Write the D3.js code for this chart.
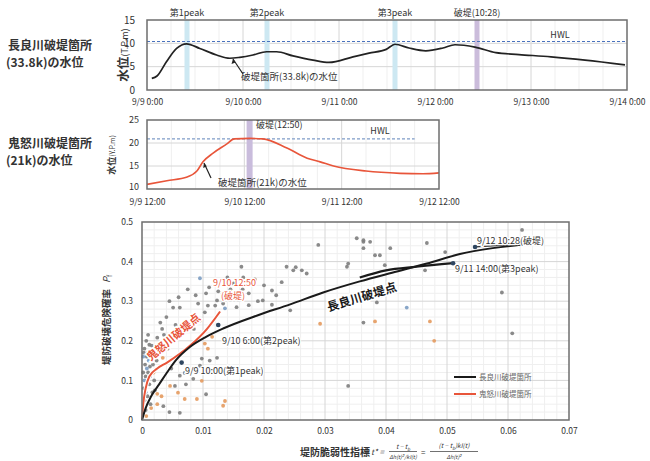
<!DOCTYPE html>
<html><head><meta charset="utf-8">
<script src="https://cdn.jsdelivr.net/npm/d3@7"></script>
<style>
body{margin:0;background:#fff}
svg{display:block}
text{font-family:"Noto Sans CJK JP","Noto Sans",sans-serif;fill:#333}
</style>
</head><body>
<svg id="c" width="650" height="461"></svg>
<script>
// ---------------- DATA ----------------
// Chart 1: 長良川 (hours from 9/9 0:00)
const nagaraHours = [1.2,2.5,4.9,7.4,9.9,13.2,17.4,20.7,23.2,26.5,29.9,32.4,36.5,41.5,45.5,51.5,55.5,59.8,62,65.5,69.7,74,77,82,87.2,93,101,109.5,119.5];
const nagaraLevel = [2.5,3.0,6.1,8.9,9.9,8.9,7.5,6.8,7.0,7.5,8.2,8.2,7.3,6.4,5.9,7.1,7.9,8.7,9.8,9.0,8.4,9.0,9.7,9.2,8.0,7.6,7.1,6.4,5.4];
const nagaraHWL = 10.4;
const nagaraTickHours = [0,24,48,72,96,120];
const nagaraTickLabels = ["9/9 0:00","9/10 0:00","9/11 0:00","9/12 0:00","9/13 0:00","9/14 0:00"];
const nagaraYTicks = [0,5,10,15];
const nagaraEventHours = [10,30,62,82.5];
const nagaraEventLabels = ["第1peak","第2peak","第3peak","破堤(10:28)"];
const nagaraEventKinds = ["peak","peak","peak","break"];

// Chart 2: 鬼怒川 (hours from 9/9 12:00)
const kinuHours = [0,4.9,9.9,12.3,13.8,16.3,19.7,21.5,25.4,28.5,34.5,39.5,42.7,46,54,62.4,68,72];
const kinuLevel = [11.0,11.8,12.6,13.9,15.9,17.8,19.8,20.9,21.0,20.9,18.9,16.7,15.9,15.0,13.9,13.4,13.3,13.5];
const kinuHWL = 20.9;
const kinuHWLEndHour = 66;
const kinuTickHours = [0,24,48,72];
const kinuTickLabels = ["9/9 12:00","9/10 12:00","9/11 12:00","9/12 12:00"];
const kinuYTicks = [10,15,20,25];
const kinuBreakHour = 25.3;

// Chart 3: t* vs Pf
const scatterXTicks = [0,0.01,0.02,0.03,0.04,0.05,0.06,0.07];
const scatterYTicks = [0,0.1,0.2,0.3,0.4,0.5];
const grayPts = [
 [0.0163,0.387],[0.0166,0.36],[0.0229,0.348],[0.0237,0.387],[0.0248,0.378],[0.0252,0.386],[0.0262,0.378],[0.027,0.37],
 [0.0213,0.327],[0.022,0.315],[0.0243,0.277],[0.0198,0.302],[0.0213,0.291],[0.019,0.30],[0.0336,0.387],[0.0338,0.395],
 [0.0352,0.459],[0.0363,0.45],[0.0363,0.246],[0.0338,0.086],[0.0051,0.284],[0.0062,0.284],[0.003,0.246],[0.0033,0.23],
 [0.0025,0.208],[0.0016,0.188],[0.0046,0.195],[0.0057,0.205],[0.0084,0.264],[0.0095,0.251],[0.0103,0.272],[0.0108,0.289],
 [0.012,0.289],[0.0123,0.302],[0.0133,0.294],[0.0092,0.294],[0.0062,0.112],[0.0054,0.086],[0.007,0.119],[0.0084,0.104],
 [0.0095,0.137],[0.0111,0.15],[0.0123,0.157],[0.0098,0.155],[0.0062,0.018],[0.0363,0.454],[0.0374,0.45],[0.0363,0.434],
 [0.0382,0.416],[0.0407,0.434],[0.039,0.416],[0.0398,0.391],[0.0467,0.447],[0.0497,0.424],[0.0464,0.378],[0.0393,0.315],
 [0.0385,0.297],[0.059,0.322],[0.0607,0.219],[0.0145,0.33],[0.0155,0.31],[0.0175,0.32],[0.0105,0.32],[0.014,0.36],
 [0.0002,0.02],[0.0004,0.05],[0.0003,0.08],[0.0006,0.11],[0.0005,0.14],[0.0008,0.16],[0.001,0.12],[0.0012,0.09],
 [0.0009,0.06],[0.0015,0.17],[0.0018,0.14],[0.0004,0.18],[0.0007,0.2],[0.0012,0.19],[0.0002,0.12],[0.0014,0.04],
 [0.002,0.1],[0.0022,0.165],[0.0028,0.19],[0.0017,0.07],[0.0036,0.215],[0.0042,0.18],[0.0075,0.24],[0.0068,0.22],
 [0.004,0.26],[0.0045,0.3],[0.006,0.31],[0.0075,0.33],[0.0088,0.315],[0.011,0.335],[0.0125,0.325],[0.0135,0.31],
 [0.015,0.345],[0.0165,0.33],[0.0185,0.355],[0.02,0.34],[0.0175,0.29],[0.0155,0.285],[0.0055,0.24],[0.0085,0.23],
 [0.0048,0.13],[0.0072,0.09],[0.0105,0.065],[0.0115,0.12],[0.0035,0.035],[0.0045,0.02],[0.0289,0.442],[0.0623,0.48],
 [0.0010,0.215],[0.0003,0.17],[0.0006,0.025],[0.0013,0.135],[0.0024,0.15],[0.0021,0.075]
];
const orangePts = [
 [0.0292,0.243],[0.007,0.053],[0.009,0.053],[0.0098,0.099],[0.0136,0.048],[0.0133,0.036],[0.0103,0.193],[0.0108,0.18],
 [0.0034,0.157],[0.0046,0.086],[0.0059,0.069],[0.0025,0.066],[0.0382,0.249],[0.0472,0.249],[0.0479,0.2],
 [0.0007,0.01],[0.0015,0.03],[0.0025,0.04],[0.001,0.17],[0.0019,0.12],[0.0032,0.06],[0.0115,0.21]
];
const bluePts = [
 [0.0434,0.284],[0.0095,0.358],[0.0003,0.03],[0.0006,0.07],[0.0004,0.1],[0.0008,0.13],[0.0011,0.15],[0.0002,0.16],[0.0013,0.11],
 [0.0125,0.24],[0.0136,0.282]
];
// trajectories
const nagaraTrajX = [0,0.0006,0.0015,0.0028,0.0041,0.0055,0.0079,0.0105,0.0133,0.0189,0.0243,0.0297,0.0357,0.041,0.0467,0.0521,0.0575,0.0652];
const nagaraTrajY = [0,0.03,0.06,0.09,0.12,0.15,0.185,0.21,0.231,0.264,0.292,0.322,0.35,0.372,0.395,0.419,0.434,0.447];
const nagaraBranchX = [0.0357,0.04,0.045,0.051];
const nagaraBranchY = [0.36,0.378,0.387,0.396];
const kinuTrajX = [0,0.0002,0.0006,0.0012,0.0025,0.0041,0.0079,0.0107,0.0128];
const kinuTrajY = [0,0.04,0.08,0.11,0.13,0.145,0.188,0.231,0.274];
const markX = [0.0065,0.0125,0.051,0.0546];
const markY = [0.145,0.24,0.396,0.437];
const markLabels = ["9/9 10:00(第1peak)","9/10 6:00(第2peak)","9/11 14:00(第3peak)","9/12 10:28(破堤)"];
const legendLabels = ["長良川破堤箇所","鬼怒川破堤箇所"];

// ---------------- DRAW ----------------
const svg = d3.select("#c");
const grid = "#d6d6d6", minor = "#efefef", frame = "#6e6e6e";

// ===== Chart 1 =====
const x1 = d3.scaleLinear().domain([0,120]).range([147,627]);
const y1 = d3.scaleLinear().domain([0,15]).range([90,20]);
const g1 = svg.append("g");
g1.selectAll(".m1").data(d3.range(6,120,6).filter(h=>h%24)).join("line")
  .attr("x1",d=>x1(d)).attr("x2",d=>x1(d)).attr("y1",y1(15)).attr("y2",y1(0)).attr("stroke",minor);
g1.selectAll(".v1").data(nagaraTickHours.slice(1,-1)).join("line")
  .attr("x1",d=>x1(d)).attr("x2",d=>x1(d)).attr("y1",y1(15)).attr("y2",y1(0)).attr("stroke",grid);
g1.selectAll(".h1").data([5,10]).join("line")
  .attr("x1",x1(0)).attr("x2",x1(120)).attr("y1",d=>y1(d)).attr("y2",d=>y1(d)).attr("stroke",grid);
g1.selectAll(".band").data(nagaraEventHours).join("rect")
  .attr("x",d=>x1(d)-2.5).attr("width",5).attr("y",y1(15)).attr("height",y1(0)-y1(15))
  .attr("fill",(d,i)=>nagaraEventKinds[i]==="peak"?"#cde8f2":"#cbbcdb");
g1.append("line").attr("x1",x1(0)).attr("x2",x1(120)).attr("y1",y1(nagaraHWL)).attr("y2",y1(nagaraHWL))
  .attr("stroke","#4a72bd").attr("stroke-width",1.1).attr("stroke-dasharray","3,2");
g1.append("path").datum(nagaraHours.map((h,i)=>[h,nagaraLevel[i]]))
  .attr("d",d3.line().x(d=>x1(d[0])).y(d=>y1(d[1])).curve(d3.curveMonotoneX))
  .attr("fill","none").attr("stroke","#222").attr("stroke-width",1.7);
g1.append("rect").attr("x",x1(0)).attr("y",y1(15)).attr("width",x1(120)-x1(0)).attr("height",y1(0)-y1(15))
  .attr("fill","none").attr("stroke",frame).attr("stroke-width",1.5);
const ax1 = g1.append("g").attr("transform",`translate(0,${y1(0)})`)
  .call(d3.axisBottom(x1).tickValues(nagaraTickHours).tickSize(0).tickPadding(9).tickFormat((d,i)=>nagaraTickLabels[i]));
ax1.select(".domain").remove();
ax1.selectAll("text").attr("font-size",8.5).attr("fill","#333").attr("font-family","Noto Sans CJK JP");
const ay1 = g1.append("g").attr("transform",`translate(${x1(0)},0)`)
  .call(d3.axisLeft(y1).tickValues(nagaraYTicks).tickSize(0).tickPadding(12));
ay1.select(".domain").remove();
ay1.selectAll("text").attr("font-size",10).attr("fill","#333").attr("font-family","Noto Sans CJK JP");
g1.selectAll(".evl").data(nagaraEventHours).join("text")
  .attr("x",d=>x1(d)).attr("y",15.5).attr("text-anchor","middle").attr("font-size",9)
  .text((d,i)=>nagaraEventLabels[i]);
g1.append("text").attr("x",560).attr("y",38).attr("text-anchor","middle").attr("font-size",9).text("HWL");
g1.append("text").attr("transform",`translate(128,55) rotate(-90)`).attr("text-anchor","middle")
  .html('<tspan font-size="12.5" font-weight="bold">水位</tspan><tspan font-size="9">(T.P.m)</tspan>');
g1.append("line").attr("x1",243).attr("y1",74).attr("x2",233).attr("y2",59).attr("stroke","#222").attr("stroke-width",1.2);
g1.append("path").attr("d","M233,59 l-1.5,5 l4,-1.5 z").attr("fill","#222");
g1.append("text").attr("x",241).attr("y",80).attr("font-size",9.5).text("破堤箇所(33.8k)の水位");
g1.append("text").attr("x",8).attr("y",50).attr("font-size",12).attr("font-weight","bold").text("長良川破堤箇所");
g1.append("text").attr("x",6).attr("y",67).attr("font-size",12).attr("font-weight","bold").text("(33.8k)の水位");

// ===== Chart 2 =====
const x2 = d3.scaleLinear().domain([0,72]).range([147,439]);
const y2 = d3.scaleLinear().domain([10,25]).range([189,120]);
const g2 = svg.append("g");
g2.selectAll(".m2").data(d3.range(6,72,6).filter(h=>h%24)).join("line")
  .attr("x1",d=>x2(d)).attr("x2",d=>x2(d)).attr("y1",y2(25)).attr("y2",y2(10)).attr("stroke",minor);
g2.selectAll(".v2").data(kinuTickHours.slice(1,-1)).join("line")
  .attr("x1",d=>x2(d)).attr("x2",d=>x2(d)).attr("y1",y2(25)).attr("y2",y2(10)).attr("stroke",grid);
g2.selectAll(".h2").data([15,20]).join("line")
  .attr("x1",x2(0)).attr("x2",x2(72)).attr("y1",d=>y2(d)).attr("y2",d=>y2(d)).attr("stroke",grid);
g2.append("rect").attr("x",x2(kinuBreakHour)-3).attr("width",6).attr("y",y2(25)).attr("height",y2(10)-y2(25)).attr("fill","#c9bcdc");
g2.append("line").attr("x1",x2(0)).attr("x2",x2(kinuHWLEndHour)).attr("y1",y2(kinuHWL)).attr("y2",y2(kinuHWL))
  .attr("stroke","#7f9cc8").attr("stroke-width",1.1).attr("stroke-dasharray","3,2");
g2.append("path").datum(kinuHours.map((h,i)=>[h,kinuLevel[i]]))
  .attr("d",d3.line().x(d=>x2(d[0])).y(d=>y2(d[1])).curve(d3.curveMonotoneX))
  .attr("fill","none").attr("stroke","#e8553a").attr("stroke-width",1.6);
g2.append("rect").attr("x",x2(0)).attr("y",y2(25)).attr("width",x2(72)-x2(0)).attr("height",y2(10)-y2(25))
  .attr("fill","none").attr("stroke",frame).attr("stroke-width",1.5);
const ax2 = g2.append("g").attr("transform",`translate(0,${y2(10)})`)
  .call(d3.axisBottom(x2).tickValues(kinuTickHours).tickSize(0).tickPadding(10).tickFormat((d,i)=>kinuTickLabels[i]));
ax2.select(".domain").remove();
ax2.selectAll("text").attr("font-size",8.5).attr("fill","#333").attr("font-family","Noto Sans CJK JP");
const ay2 = g2.append("g").attr("transform",`translate(${x2(0)},0)`)
  .call(d3.axisLeft(y2).tickValues(kinuYTicks).tickSize(0).tickPadding(8));
ay2.select(".domain").remove();
ay2.selectAll("text").attr("font-size",9).attr("fill","#333").attr("font-family","Noto Sans CJK JP");
ay2.selectAll(".tick").filter(d=>d===10).select("text").attr("dy","0.1em");
g2.append("text").attr("x",256).attr("y",128).attr("font-size",9).text("破堤(12:50)");
g2.append("text").attr("x",380).attr("y",134).attr("text-anchor","middle").attr("font-size",9).text("HWL");
g2.append("text").attr("transform",`translate(115,155) rotate(-90)`).attr("text-anchor","middle")
  .html('<tspan font-size="9" font-weight="bold">水位</tspan><tspan font-size="7">(Y.P.m)</tspan>');
g2.append("line").attr("x1",211).attr("y1",178).attr("x2",204).attr("y2",163).attr("stroke","#222").attr("stroke-width",1.2);
g2.append("path").attr("d","M204,163 l-0.8,5 l3.6,-1.8 z").attr("fill","#222");
g2.append("text").attr("x",218).attr("y",186).attr("font-size",9.5).text("破堤箇所(21k)の水位");
g2.append("text").attr("x",8).attr("y",148).attr("font-size",12).attr("font-weight","bold").text("鬼怒川破堤箇所");
g2.append("text").attr("x",6).attr("y",165).attr("font-size",12).attr("font-weight","bold").text("(21k)の水位");

// ===== Chart 3 =====
const x3 = d3.scaleLinear().domain([0,0.07]).range([142,569]);
const y3 = d3.scaleLinear().domain([0,0.5]).range([420,222]);
const g3 = svg.append("g");
g3.selectAll(".mx").data(d3.range(1,35).map(i=>i*0.002).filter((d,i)=>(i+1)%5)).join("line")
  .attr("x1",d=>x3(d)).attr("x2",d=>x3(d)).attr("y1",y3(0.5)).attr("y2",y3(0)).attr("stroke",minor);
g3.selectAll(".my").data(d3.range(1,25).map(i=>i*0.02).filter((d,i)=>(i+1)%5)).join("line")
  .attr("x1",x3(0)).attr("x2",x3(0.07)).attr("y1",d=>y3(d)).attr("y2",d=>y3(d)).attr("stroke",minor);
g3.selectAll(".vx").data(scatterXTicks.slice(1,-1)).join("line")
  .attr("x1",d=>x3(d)).attr("x2",d=>x3(d)).attr("y1",y3(0.5)).attr("y2",y3(0)).attr("stroke",grid);
g3.selectAll(".hy").data(scatterYTicks.slice(1,-1)).join("line")
  .attr("x1",x3(0)).attr("x2",x3(0.07)).attr("y1",d=>y3(d)).attr("y2",d=>y3(d)).attr("stroke",grid);

function dots(pts,color){
  g3.append("g").selectAll("circle").data(pts).join("circle")
    .attr("cx",d=>x3(d[0])).attr("cy",d=>y3(d[1])).attr("r",1.9).attr("fill",color).attr("opacity",0.9);
}
dots(grayPts,"#7d7d7d");
dots(orangePts,"#e49a5e");
dots(bluePts,"#7b9cc2");

const line3 = d3.line().x(d=>x3(d[0])).y(d=>y3(d[1])).curve(d3.curveMonotoneX);
g3.append("path").datum(kinuTrajX.map((x,i)=>[x,kinuTrajY[i]])).attr("d",line3)
  .attr("fill","none").attr("stroke","#fff").attr("stroke-width",4);
g3.append("path").datum(kinuTrajX.map((x,i)=>[x,kinuTrajY[i]])).attr("d",line3)
  .attr("fill","none").attr("stroke","#e8553a").attr("stroke-width",2);
g3.append("path").datum(nagaraTrajX.map((x,i)=>[x,nagaraTrajY[i]])).attr("d",line3)
  .attr("fill","none").attr("stroke","#1a1a1a").attr("stroke-width",2);
g3.append("path").datum(nagaraBranchX.map((x,i)=>[x,nagaraBranchY[i]])).attr("d",line3)
  .attr("fill","none").attr("stroke","#1a1a1a").attr("stroke-width",2.2);
g3.append("line").attr("x1",x3(markX[3])).attr("y1",y3(markY[3])).attr("x2",x3(0.0652)).attr("y2",y3(0.447))
  .attr("stroke","#333").attr("stroke-width",1.2);
g3.selectAll(".mk").data(markX).join("circle").attr("cx",d=>x3(d)).attr("cy",(d,i)=>y3(markY[i]))
  .attr("r",2.3).attr("fill","#2f4660");

g3.append("rect").attr("x",x3(0)).attr("y",y3(0.5)).attr("width",x3(0.07)-x3(0)).attr("height",y3(0)-y3(0.5))
  .attr("fill","none").attr("stroke",frame).attr("stroke-width",1.5);

const ax3 = g3.append("g").attr("transform",`translate(0,${y3(0)})`)
  .call(d3.axisBottom(x3).tickValues(scatterXTicks).tickSize(0).tickPadding(8).tickFormat(d=>d===0?"0":d3.format(".2f")(d)));
ax3.select(".domain").remove();
ax3.selectAll("text").attr("font-size",8.5).attr("fill","#333").attr("font-family","Noto Sans CJK JP");
const ay3 = g3.append("g").attr("transform",`translate(${x3(0)},0)`)
  .call(d3.axisLeft(y3).tickValues(scatterYTicks).tickSize(0).tickPadding(9).tickFormat(d=>d===0?"0":d3.format(".1f")(d)));
ay3.select(".domain").remove();
ay3.selectAll("text").attr("font-size",8.5).attr("fill","#333").attr("font-family","Noto Sans CJK JP");

// point labels
const lblPos = [[185,374],[222,344],[455,272],[477,244]];
g3.selectAll(".ml").data(markLabels).join("text")
  .attr("x",(d,i)=>lblPos[i][0]).attr("y",(d,i)=>lblPos[i][1]).attr("font-size",9)
  .attr("stroke","#fff").attr("stroke-width",2.5).attr("paint-order","stroke").text(d=>d);
g3.append("text").attr("x",213).attr("y",286).attr("font-size",9).style("fill","#e8553a")
  .attr("stroke","#fff").attr("stroke-width",2.5).attr("paint-order","stroke").text("9/10 12:50");
g3.append("text").attr("x",221).attr("y",299).attr("font-size",9).style("fill","#e8553a")
  .attr("stroke","#fff").attr("stroke-width",2.5).attr("paint-order","stroke").text("(破堤)");
g3.append("text").attr("transform","translate(363,301) rotate(-17)").attr("text-anchor","middle")
  .attr("font-size",12).attr("font-weight","bold").style("fill","#1a1a1a")
  .attr("stroke","#fff").attr("stroke-width",3).attr("paint-order","stroke").text("長良川破堤点");
g3.append("text").attr("transform","translate(176,340) rotate(-40)").attr("text-anchor","middle")
  .attr("font-size",11).attr("font-weight","bold").style("fill","#e8553a")
  .attr("stroke","#fff").attr("stroke-width",3).attr("paint-order","stroke").text("鬼怒川破堤点");

// legend
const legColors = ["#1a1a1a","#e8553a"];
const lg = g3.selectAll(".lg").data(legendLabels).join("g").attr("transform",(d,i)=>`translate(454,${377+i*17})`);
lg.append("line").attr("x1",0).attr("x2",22).attr("stroke",(d,i)=>legColors[i]).attr("stroke-width",2);
lg.append("text").attr("x",25).attr("y",3).attr("font-size",7.5).style("fill","#666").text(d=>d);

// y label
g3.append("text").attr("transform","translate(110,320) rotate(-90)").attr("text-anchor","middle")
  .html('<tspan font-size="9.5" font-weight="bold">堤防破壊危険確率</tspan><tspan font-size="9.5" font-style="italic" dx="6">P</tspan><tspan font-size="6.5" dy="2">f</tspan>');
// x label and formula
g3.append("text").attr("x",300).attr("y",456).attr("font-size",10).attr("font-weight","bold").text("堤防脆弱性指標");
const serif = "Liberation Serif";
g3.append("text").attr("x",371).attr("y",455).attr("font-size",8).attr("font-style","italic").attr("font-family",serif).text("t* =");
g3.append("text").attr("x",403).attr("y",449).attr("text-anchor","middle").attr("font-size",6.5).attr("font-family",serif).attr("font-style","italic")
  .html('t − t<tspan font-size="4.5" dy="1.5">b</tspan>');
g3.append("line").attr("x1",389).attr("x2",417).attr("y1",451.5).attr("y2",451.5).attr("stroke","#333").attr("stroke-width",0.7);
g3.append("text").attr("x",403).attr("y",459).attr("text-anchor","middle").attr("font-size",5.5).attr("font-family",serif).attr("font-style","italic")
  .html('Δh(t)<tspan font-size="4" dy="-2">2</tspan><tspan dy="2">/kI(t)</tspan>');
g3.append("text").attr("x",421).attr("y",455).attr("font-size",8).attr("font-family",serif).text("=");
g3.append("text").attr("x",454).attr("y",448).attr("text-anchor","middle").attr("font-size",6.5).attr("font-family",serif).attr("font-style","italic")
  .html('(t − t<tspan font-size="4.5" dy="1.5">b</tspan><tspan dy="-1.5">)kI(t)</tspan>');
g3.append("line").attr("x1",430).attr("x2",478).attr("y1",451.5).attr("y2",451.5).attr("stroke","#333").attr("stroke-width",0.7);
g3.append("text").attr("x",454).attr("y",459).attr("text-anchor","middle").attr("font-size",5.5).attr("font-family",serif).attr("font-style","italic")
  .html('Δh(t)<tspan font-size="4" dy="-2">2</tspan>');
</script>
</body></html>
